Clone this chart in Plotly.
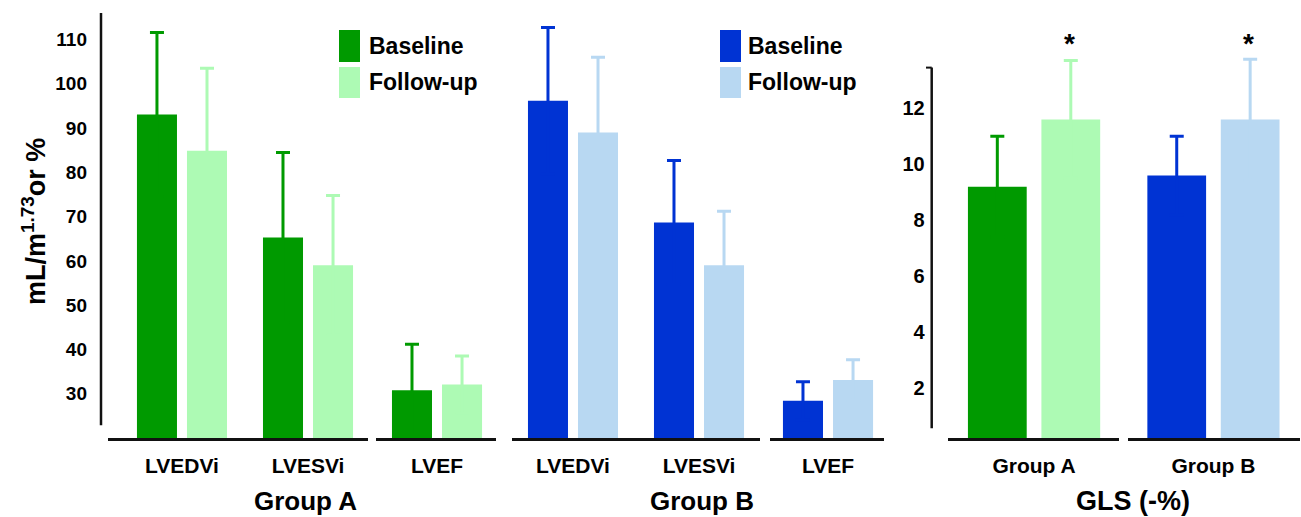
import plotly.graph_objects as go

# ---------------- data ----------------
vol_categories = ["LVEDVi", "LVESVi"]
ef_category = ["LVEF"]
gls_groups = ["Group A", "Group B"]

groupA_baseline = [93.1, 65.3, 30.8]
groupA_baseline_sd = [18.5, 19.2, 10.4]
groupA_followup = [84.9, 59.0, 32.1]
groupA_followup_sd = [18.6, 15.8, 6.4]

groupB_baseline = [96.2, 68.7, 28.4]
groupB_baseline_sd = [16.5, 14.0, 4.3]
groupB_followup = [89.0, 59.0, 33.1]
groupB_followup_sd = [17.0, 12.2, 4.6]

gls_baseline = [9.2, 9.6]
gls_baseline_sd = [1.8, 1.4]
gls_followup = [11.6, 11.6]
gls_followup_sd = [2.1, 2.15]

left_ticks = [30, 40, 50, 60, 70, 80, 90, 100, 110]
gls_ticks = [2, 4, 6, 8, 10, 12]

# ---------------- style ----------------
GREEN = "#009a00"
LGREEN = "#adfab4"
BLUE = "#0033d3"
LBLUE = "#b8d8f2"
FONT = "Liberation Sans, Arial, sans-serif"

W, H = 1301, 517
def px(x):
    return x / W
def py(y):
    return (H - y) / H

fig = go.Figure()

def add_bar(x, y, sd, color, xa, ya, name):
    fig.add_trace(go.Bar(
        x=x, y=y, name=name, xaxis=xa, yaxis=ya,
        marker=dict(color=color, line=dict(width=0)),
        error_y=dict(type="data", array=sd, symmetric=True,
                     color=color, thickness=3, width=7),
        showlegend=False,
    ))

# Group A
add_bar(vol_categories, groupA_baseline[:2], groupA_baseline_sd[:2], GREEN, "x", "y", "Baseline")
add_bar(vol_categories, groupA_followup[:2], groupA_followup_sd[:2], LGREEN, "x", "y", "Follow-up")
add_bar(ef_category, groupA_baseline[2:], groupA_baseline_sd[2:], GREEN, "x2", "y", "Baseline")
add_bar(ef_category, groupA_followup[2:], groupA_followup_sd[2:], LGREEN, "x2", "y", "Follow-up")
# Group B
add_bar(vol_categories, groupB_baseline[:2], groupB_baseline_sd[:2], BLUE, "x3", "y", "Baseline")
add_bar(vol_categories, groupB_followup[:2], groupB_followup_sd[:2], LBLUE, "x3", "y", "Follow-up")
add_bar(ef_category, groupB_baseline[2:], groupB_baseline_sd[2:], BLUE, "x4", "y", "Baseline")
add_bar(ef_category, groupB_followup[2:], groupB_followup_sd[2:], LBLUE, "x4", "y", "Follow-up")
# GLS
add_bar(gls_groups[:1], gls_baseline[:1], gls_baseline_sd[:1], GREEN, "x5", "y2", "Baseline")
add_bar(gls_groups[:1], gls_followup[:1], gls_followup_sd[:1], LGREEN, "x5", "y2", "Follow-up")
add_bar(gls_groups[1:], gls_baseline[1:], gls_baseline_sd[1:], BLUE, "x6", "y2", "Baseline")
add_bar(gls_groups[1:], gls_followup[1:], gls_followup_sd[1:], LBLUE, "x6", "y2", "Follow-up")

ydom = [py(438), py(13)]
tickfont = dict(family=FONT, size=21, color="black", weight="bold")

def xaxis(d0, d1, r0, r1, anchor):
    return dict(domain=[px(d0), px(d1)], range=[r0, r1], anchor=anchor,
                type="category", showline=True, linecolor="#111", linewidth=2.5,
                ticks="", showgrid=False, zeroline=False, tickfont=tickfont,
                ticklabelstandoff=7, fixedrange=True)

layout = dict(
    width=W, height=H,
    margin=dict(l=0, r=0, t=0, b=0),
    paper_bgcolor="white", plot_bgcolor="white",
    barmode="group", bargap=0.206, bargroupgap=0.2,
    showlegend=False,
    xaxis=xaxis(108, 368, -0.587, 1.476, "y"),
    xaxis2=xaxis(376, 496, -0.484, 0.468, "y"),
    xaxis3=xaxis(512, 760, -0.484, 1.484, "y"),
    xaxis4=xaxis(770, 884, -0.46, 0.444, "y"),
    xaxis5=xaxis(948, 1119, -0.465, 0.459, "y2"),
    xaxis6=xaxis(1128, 1300, -0.462, 0.468, "y2"),
    yaxis=dict(domain=ydom, range=[20, 116], anchor="free", position=px(101),
               showline=False, showgrid=False, zeroline=False, ticks="",
               tickvals=left_ticks, tickfont=dict(family=FONT, size=19, color="black", weight="bold"),
               ticklabelstandoff=14, fixedrange=True),
    yaxis2=dict(domain=ydom, range=[0.225, 15.4], anchor="free", position=px(931.7),
                showline=False, showgrid=False, zeroline=False, ticks="",
                tickvals=gls_ticks, tickfont=dict(family=FONT, size=20, color="black", weight="bold"),
                ticklabelstandoff=7, fixedrange=True),
)
fig.update_layout(**layout)

shapes = [
    # vertical axis lines
    dict(type="line", xref="paper", yref="y", x0=px(101), x1=px(101), y0=22.9, y1=116,
         line=dict(color="#111", width=2.5)),
    dict(type="line", xref="paper", yref="y2", x0=px(931.7), x1=px(931.7), y0=0.57, y1=13.45,
         line=dict(color="#111", width=2.5)),
    dict(type="line", xref="paper", yref="y2", x0=px(926), x1=px(931.7), y0=13.45, y1=13.45,
         line=dict(color="#111", width=2)),
    # legend swatches
    dict(type="rect", xref="paper", yref="paper", x0=px(339), x1=px(360), y0=py(62), y1=py(30),
         fillcolor=GREEN, line=dict(width=0)),
    dict(type="rect", xref="paper", yref="paper", x0=px(339), x1=px(360), y0=py(98), y1=py(67),
         fillcolor=LGREEN, line=dict(width=0)),
    dict(type="rect", xref="paper", yref="paper", x0=px(720), x1=px(741), y0=py(62), y1=py(30),
         fillcolor=BLUE, line=dict(width=0)),
    dict(type="rect", xref="paper", yref="paper", x0=px(720), x1=px(741), y0=py(98), y1=py(67),
         fillcolor=LBLUE, line=dict(width=0)),
]
fig.update_layout(shapes=shapes)

def ann(text, x, y, size, **kw):
    d = dict(text=text, x=x, y=y, xref="paper", yref="paper", showarrow=False,
             font=dict(family=FONT, size=size, color="black", weight="bold"),
             xanchor="center", yanchor="middle")
    d.update(kw)
    fig.add_annotation(**d)

ann("mL/m<sup>1.73</sup>or %", px(34), py(222), 27, textangle=-90)
ann("Group A", px(305), py(501), 26)
ann("Group B", px(702), py(501), 26)
ann("GLS (-%)", px(1133), py(501), 27)
ann("Baseline", px(367), py(46), 23, xanchor="left")
ann("Follow-up", px(367), py(82), 23, xanchor="left")
ann("Baseline", px(746), py(46), 23, xanchor="left")
ann("Follow-up", px(746), py(82), 23, xanchor="left")
# significance markers
fig.add_annotation(text="*", x=gls_groups[0], y=14.3, xref="x5", yref="y2", xshift=35,
                   showarrow=False, font=dict(family=FONT, size=28, color="black", weight="bold"))
fig.add_annotation(text="*", x=gls_groups[1], y=14.3, xref="x6", yref="y2", xshift=35,
                   showarrow=False, font=dict(family=FONT, size=28, color="black", weight="bold"))

fig.write_html("out.html", config={"displayModeBar": False},
               post_script="document.body.style.margin='0';document.body.style.padding='0';")
